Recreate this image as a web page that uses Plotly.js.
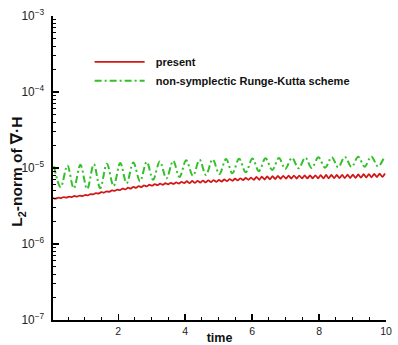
<!DOCTYPE html>
<html>
<head>
<meta charset="utf-8">
<script src="https://cdn.plot.ly/plotly-3.0.1.min.js"></script>
<style>
  html, body { margin: 0; padding: 0; background: #fff; }
  #chart { width: 398px; height: 345px; }
</style>
</head>
<body>
<div id="chart"></div>
<script>
// L2-norm of div(H) over time for the two integrators (values in units of 1e-6)

const presentTime = [
  0.05, 0.13, 0.21, 0.29, 0.37, 0.45, 0.53, 0.61, 0.69, 0.77, 0.85, 0.93,
  1.01, 1.09, 1.17, 1.25, 1.33, 1.41, 1.49, 1.57, 1.65, 1.73, 1.81, 1.89, 1.97,
  2.05, 2.13, 2.21, 2.29, 2.37, 2.45, 2.53, 2.61, 2.69, 2.77, 2.85, 2.93,
  3.01, 3.09, 3.17, 3.25, 3.33, 3.41, 3.49, 3.57, 3.65, 3.73, 3.81, 3.89, 3.97,
  4.05, 4.13, 4.21, 4.29, 4.37, 4.45, 4.53, 4.61, 4.69, 4.77, 4.85, 4.93,
  5.01, 5.09, 5.17, 5.25, 5.33, 5.41, 5.49, 5.57, 5.65, 5.73, 5.81, 5.89, 5.97,
  6.05, 6.13, 6.21, 6.29, 6.37, 6.45, 6.53, 6.61, 6.69, 6.77, 6.85, 6.93,
  7.01, 7.09, 7.17, 7.25, 7.33, 7.41, 7.49, 7.57, 7.65, 7.73, 7.81, 7.89, 7.97,
  8.05, 8.13, 8.21, 8.29, 8.37, 8.45, 8.53, 8.61, 8.69, 8.77, 8.85, 8.93,
  9.01, 9.09, 9.17, 9.25, 9.33, 9.41, 9.49, 9.57, 9.65, 9.73, 9.81, 9.89, 9.97
];
const presentNorm = [
  4.02, 3.95, 4.08, 4.02, 4.15, 4.08, 4.21, 4.14, 4.28, 4.21, 4.34, 4.27,
  4.41, 4.37, 4.54, 4.49, 4.67, 4.62, 4.80, 4.75, 4.93, 4.87, 5.06, 5.00, 5.19,
  5.10, 5.37, 5.22, 5.50, 5.35, 5.63, 5.47, 5.76, 5.60, 5.90, 5.72, 6.02,
  5.85, 6.14, 5.94, 6.22, 6.02, 6.30, 6.09, 6.38, 6.17, 6.46, 6.25, 6.55, 6.33,
  6.69, 6.32, 6.74, 6.37, 6.79, 6.42, 6.84, 6.46, 6.89, 6.51, 6.94, 6.56,
  6.98, 6.62, 7.08, 6.70, 7.16, 6.78, 7.24, 6.86, 7.32, 6.93, 7.41, 7.01, 7.49,
  6.97, 7.65, 7.01, 7.70, 7.06, 7.75, 7.10, 7.80, 7.15, 7.85, 7.20, 7.90,
  7.24, 7.93, 7.26, 7.95, 7.27, 7.96, 7.29, 7.98, 7.30, 8.00, 7.31, 8.02, 7.33,
  8.08, 7.30, 8.09, 7.32, 8.11, 7.34, 8.12, 7.35, 8.14, 7.37, 8.16, 7.38,
  8.17, 7.42, 8.22, 7.47, 8.28, 7.50, 8.33, 7.56, 8.38, 7.60, 8.43, 7.65, 8.49
];

const rkTime = [
  0.08, 0.28, 0.48, 0.67, 0.87, 1.07, 1.27, 1.46, 1.66, 1.86,
  2.06, 2.25, 2.45, 2.65, 2.85, 3.04, 3.24, 3.44, 3.64, 3.83,
  4.03, 4.23, 4.43, 4.62, 4.82, 5.02, 5.22, 5.41, 5.61, 5.81,
  6.01, 6.20, 6.40, 6.60, 6.80, 6.99, 7.19, 7.39, 7.59, 7.78,
  7.98, 8.18, 8.38, 8.57, 8.77, 8.97, 9.17, 9.36, 9.56, 9.76, 9.96
];
const rkNorm = [
  10.5, 5.6, 10.8, 5.4, 11.0, 5.3, 11.2, 5.4, 11.4, 5.8,
  11.6, 6.3, 11.8, 6.7, 12.0, 7.0, 12.2, 7.3, 12.4, 7.6,
  12.6, 7.9, 12.8, 8.1, 13.0, 8.3, 13.1, 8.5, 13.2, 8.8,
  13.3, 9.1, 13.4, 9.4, 13.5, 9.7, 13.6, 9.9, 13.7, 10.0,
  13.8, 10.1, 13.9, 10.2, 14.0, 10.3, 14.1, 10.4, 14.2, 10.5, 14.3
];

const scale = 1e-6;
const seriesNames = ['present', 'non-symplectic Runge-Kutta scheme'];
const yTitle = 'L<sub>2</sub>-norm of ∇·H';
const xTitle = 'time';

const FONT = 'Liberation Sans, Arial, Helvetica, sans-serif';
const PAD = '\u00a0\u00a0';   // small gap between legend sample and label

const traces = [
  {
    x: presentTime,
    y: presentNorm.map(v => v * scale),
    name: PAD + seriesNames[0],
    mode: 'lines',
    line: { color: '#d01818', width: 1.8, shape: 'spline', smoothing: 0.6 }
  },
  {
    x: rkTime,
    y: rkNorm.map(v => v * scale),
    name: PAD + seriesNames[1],
    mode: 'lines',
    line: { color: '#33c02a', width: 2, dash: '7px,3px,2px,3px', shape: 'spline', smoothing: 1 }
  }
];

const layout = {
  width: 398,
  height: 345,
  margin: { l: 53, r: 12, t: 16, b: 25 },
  paper_bgcolor: '#ffffff',
  plot_bgcolor: '#ffffff',
  font: { family: FONT, size: 10, color: '#222' },
  showlegend: true,
  legend: {
    x: 0.11, y: 0.897, xanchor: 'left', yanchor: 'top',
    bgcolor: 'rgba(0,0,0,0)',
    font: { family: FONT, size: 11, color: '#111', weight: 'bold' },
    itemwidth: 50,
    tracegroupgap: 0
  },
  xaxis: {
    type: 'linear',
    range: [0.05, 10],
    tick0: 0, dtick: 2,
    ticks: 'inside', ticklen: 6, tickwidth: 1.5, tickcolor: '#000',
    minor: { ticks: 'inside', ticklen: 3, tickwidth: 1, tickcolor: '#000', dtick: 0.5, tick0: 0, showgrid: false },
    showline: true, linecolor: '#000', linewidth: 2,
    showgrid: false, zeroline: false,
    tickfont: { family: FONT, size: 10.5, color: '#222' },
    title: { text: xTitle, font: { family: FONT, size: 12.5, color: '#111', weight: 'bold' }, standoff: 3 }
  },
  yaxis: {
    type: 'log',
    range: [-7, -3],
    dtick: 1,
    exponentformat: 'power',
    ticks: 'inside', ticklen: 6, tickwidth: 1.5, tickcolor: '#000',
    ticklabelstandoff: 5,
    minor: { ticks: 'inside', ticklen: 3, tickwidth: 1, tickcolor: '#000', dtick: 'D1', showgrid: false },
    showline: true, linecolor: '#000', linewidth: 2,
    showgrid: false, zeroline: false,
    tickfont: { family: FONT, size: 9.5, color: '#222' }
  },
  // y-axis title sits tight against the tick labels, so it is placed as an annotation
  annotations: [
    {
      text: yTitle,
      xref: 'paper', yref: 'paper',
      x: -0.105, y: 0.488,
      xanchor: 'center', yanchor: 'middle',
      textangle: -90,
      showarrow: false,
      font: { family: FONT, size: 15.5, color: '#111', weight: 'bold' }
    }
  ]
};

Plotly.newPlot('chart', traces, layout, { staticPlot: true, displayModeBar: false });
</script>
</body>
</html>
